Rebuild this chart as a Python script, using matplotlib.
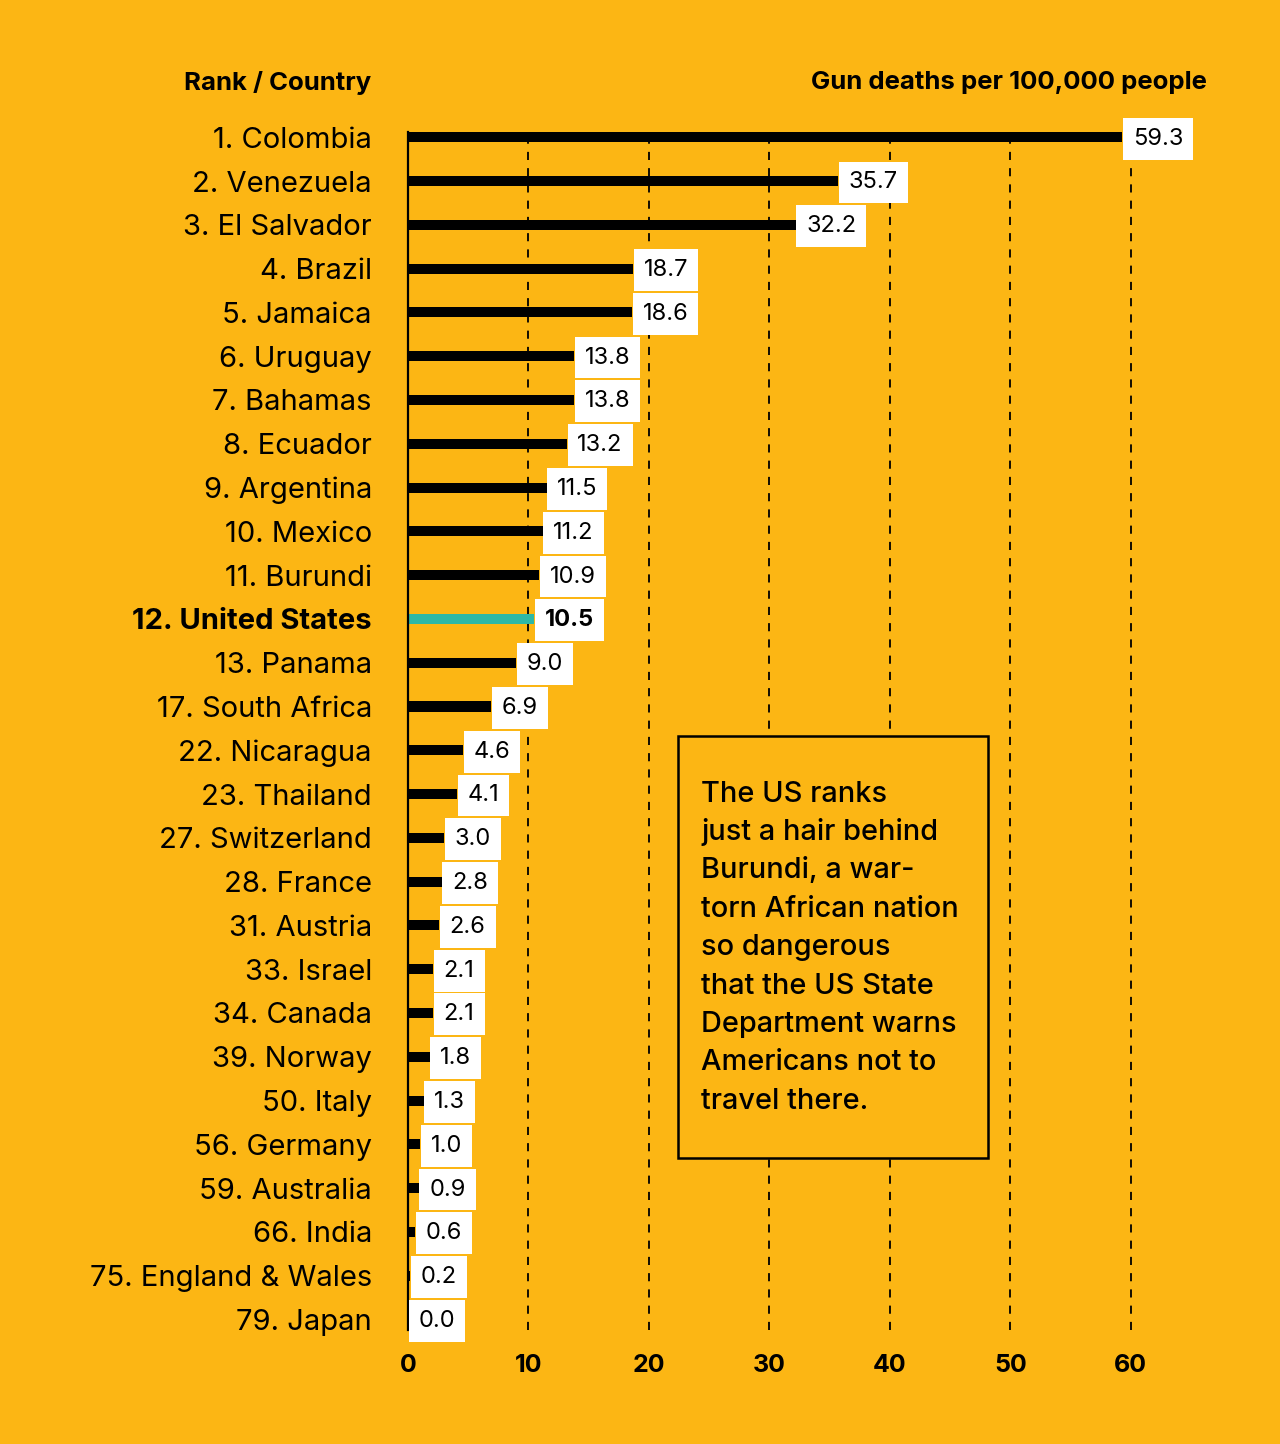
import matplotlib.pyplot as plt
from matplotlib.patches import Rectangle

countries = ["1. Colombia", "2. Venezuela", "3. El Salvador", "4. Brazil", "5. Jamaica",
             "6. Uruguay", "7. Bahamas", "8. Ecuador", "9. Argentina", "10. Mexico",
             "11. Burundi", "12. United States", "13. Panama", "17. South Africa",
             "22. Nicaragua", "23. Thailand", "27. Switzerland", "28. France", "31. Austria",
             "33. Israel", "34. Canada", "39. Norway", "50. Italy", "56. Germany",
             "59. Australia", "66. India", "75. England & Wales", "79. Japan"]
deaths = [59.3, 35.7, 32.2, 18.7, 18.6, 13.8, 13.8, 13.2, 11.5, 11.2, 10.9, 10.5, 9.0, 6.9,
          4.6, 4.1, 3.0, 2.8, 2.6, 2.1, 2.1, 1.8, 1.3, 1.0, 0.9, 0.6, 0.2, 0.0]
highlight = "12. United States"
xticks = [0, 10, 20, 30, 40, 50, 60]

note_lines = ["The US ranks", "just a hair behind", "Burundi, a war-",
              "torn African nation", "so dangerous", "that the US State",
              "Department warns", "Americans not to", "travel there."]

BG = "#FCB614"
TEAL = "#2DB8A6"
plt.rcParams['font.family'] = ['Inter', 'DejaVu Sans']

fig = plt.figure(figsize=(12.8, 14.44), dpi=100, facecolor=BG)
ax = fig.add_axes([408 / 1280, 1 - 1330 / 1444, (1191 - 408) / 1280, (1330 - 132) / 1444])
ax.set_facecolor(BG)

ys = list(range(len(countries)))
colors = [TEAL if c == highlight else "black" for c in countries]
ax.barh(ys, deaths, height=0.23, color=colors, zorder=3)

# value labels in white boxes
for y, v, c in zip(ys, deaths, countries):
    bold = c == highlight
    ax.annotate(f"{v:.1f}", (v, y), xytext=(7.5, -1), textcoords="offset points",
                ha="left", va="center", fontsize=17,
                fontweight="bold" if bold else "normal", color="black",
                bbox=dict(boxstyle="square,pad=0.42", fc="white", ec="none"),
                zorder=6)

ax.set_xlim(0, 65)
ax.set_ylim(27.24, -0.12)

for x in xticks[1:]:
    ax.axvline(x, color="black", lw=1.3, ls=(0, (4.5, 4.5)), zorder=1)

for s in ["top", "right", "bottom"]:
    ax.spines[s].set_visible(False)
ax.spines["left"].set_linewidth(1.6)
ax.spines["left"].set_zorder(4)

ax.set_xticks(xticks)
ax.set_xticklabels([str(t) for t in xticks], fontsize=18, fontweight="bold")
ax.set_yticks(ys)
ax.set_yticklabels(countries, fontsize=21)
for lbl in ax.get_yticklabels():
    if lbl.get_text() == highlight:
        lbl.set_fontweight("bold")
ax.tick_params(axis="y", length=0, pad=26)
ax.tick_params(axis="x", length=0, pad=17)

# headers
fig.text(371 / 1280, 1 - 83 / 1444, "Rank / Country", ha="right", va="center",
         fontsize=18.5, fontweight="bold")
fig.text(1207 / 1280, 1 - 83 / 1444, "Gun deaths per 100,000 people", ha="right",
         va="center", fontsize=18.5, fontweight="bold")

# note box
box = Rectangle((678 / 1280, 1 - 1158 / 1444), (988 - 678) / 1280, (1158 - 736) / 1444,
                transform=fig.transFigure, fc=BG, ec="black", lw=1.8, zorder=5,
                clip_on=False)
ax.add_patch(box)
for i, line in enumerate(note_lines):
    fig.text(701 / 1280, 1 - (794 + i * 38.4) / 1444, line, ha="left", va="center",
             fontsize=20.8, fontweight="medium", zorder=7)

fig.savefig("out.png", dpi=100, facecolor=BG)
